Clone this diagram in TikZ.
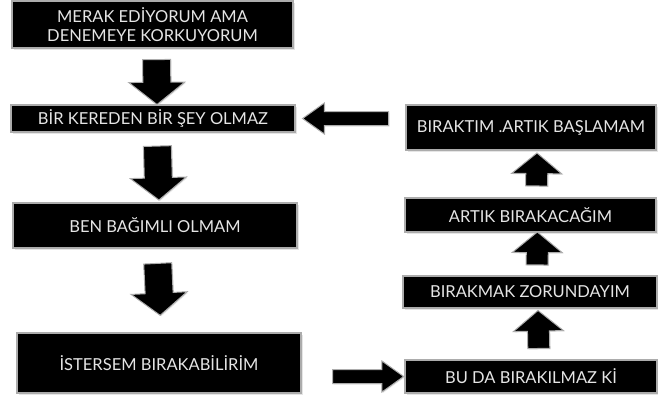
\documentclass[tikz,border=0pt]{standalone}
\usepackage{fontspec}
\setmainfont{Lato}
\usetikzlibrary{calc,shapes.arrows,shadows}

\begin{document}
\begin{tikzpicture}[x=1pt,y=-1pt,
    kutu/.style={rectangle,fill=black,draw=gray!65,line width=1.2pt,
      text=white!90!black,font=\fontsize{16.5}{19}\selectfont,align=center,inner sep=0pt,
      drop shadow={shadow xshift=1.5pt,shadow yshift=-1.5pt,fill=gray!40}},
    ok/.style={single arrow,fill=black,draw=gray!65,line width=1pt,inner xsep=0pt,
      sloped,allow upside down,
      drop shadow={shadow xshift=1pt,shadow yshift=-1pt,fill=gray!35}},
    asagi/.style={ok,inner ysep=13.5pt,single arrow head extend=14pt,single arrow tip angle=103},
    yukari/.style={ok,inner ysep=10.5pt,single arrow head extend=14pt,single arrow tip angle=101},
    yana/.style={ok,inner ysep=6.5pt,single arrow head extend=8.5pt,single arrow tip angle=71}]
  \useasboundingbox (0,0) rectangle (658,402);
  % left column
  \node[kutu,minimum width=281pt,minimum height=47pt] (merak) at (152.5,24.5) {MERAK EDİYORUM AMA\\DENEMEYE KORKUYORUM};
  \node[kutu,minimum width=284pt,minimum height=27pt] (birkere) at (153,118.5) {BİR KEREDEN BİR ŞEY OLMAZ};
  \node[kutu,minimum width=284pt,minimum height=45pt] (ben) at (155,225.5) {BEN BAĞIMLI OLMAM};
  \node[kutu,minimum width=284pt,minimum height=60pt] (istersem) at (159,363) {İSTERSEM BIRAKABİLİRİM};
  % right column
  \node[kutu,minimum width=250pt,minimum height=45pt] (birakt) at (531,127.5) {BIRAKTIM .ARTIK BAŞLAMAM};
  \node[kutu,minimum width=251pt,minimum height=34pt] (artik) at (530.5,215) {ARTIK BIRAKACAĞIM};
  \node[kutu,minimum width=254pt,minimum height=32pt] (birakmak) at (530,292) {BIRAKMAK ZORUNDAYIM};
  \node[kutu,minimum width=252pt,minimum height=33pt] (buda) at (531,376.5) {BU DA BIRAKILMAZ Kİ};
  % arrows
  \path ([xshift=4pt]merak.south) -- node[asagi,minimum height=45pt] (ok1) {} ([xshift=4pt]birkere.north);
  \path ([xshift=4pt]birkere.south) -- node[asagi,minimum height=54pt] (ok2) {} ([xshift=4pt]ben.north);
  \path ([xshift=2pt]ben.south) -- node[asagi,minimum height=52pt,pos=.42] (ok3) {} ([xshift=2pt]istersem.north);
  \path (istersem.east |- buda.west) -- node[yana,minimum height=71pt,pos=.6] (ok4) {} (buda.west);
  \path ([xshift=8pt]buda.north) -- node[yukari,minimum height=38pt] (ok5) {} ([xshift=8pt]birakmak.south);
  \path ([xshift=7pt]birakmak.south) -- node[yukari,minimum height=33pt] (ok6) {} ([xshift=7pt]artik.north);
  \path ([xshift=6pt]artik.north) -- node[yukari,minimum height=33pt] (ok7) {} ([xshift=6pt]birakt.south);
  \path (birakt.west |- birkere.east) -- node[yana,minimum height=86pt] (ok8) {} (birkere.east);
\end{tikzpicture}
\end{document}
